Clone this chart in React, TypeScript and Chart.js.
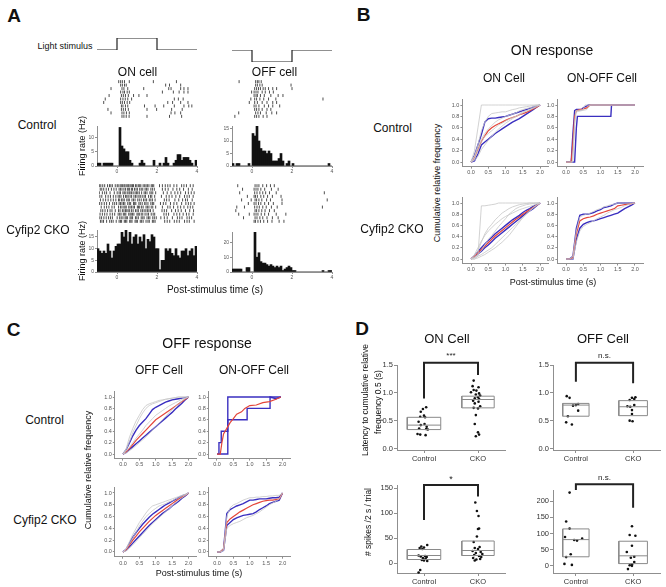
import React, { useEffect, useRef } from "react";
import { Chart, registerables } from "chart.js";
Chart.register(...registerables);

const FONT = "'Liberation Sans', Arial, Helvetica, sans-serif";
Chart.defaults.font.family = FONT;

// ---------------- Panel A data ----------------
const binStarts = [-1.0,-0.9,-0.8,-0.7,-0.6,-0.5,-0.4,-0.3,-0.2,-0.1,0.0,0.1,0.2,0.3,0.4,0.5,0.6,0.7,0.8,0.9,1.0,1.1,1.2,1.3,1.4,1.5,1.6,1.7,1.8,1.9,2.0,2.1,2.2,2.3,2.4,2.5,2.6,2.7,2.8,2.9,3.0,3.1,3.2,3.3,3.4,3.5,3.6,3.7,3.8,3.9];
const histCtrlOn = [1,1,0,1,1,1,1,1,0,0, 0,13.5,7,6,5,5,2,1,0,0, 0,1,2,1,0,0,0,0,2,0, 0,1,0,1,3,1,0,0,1,2, 4,4,2,3,3,3,2,1,0,2];
const histCtrlOff = [1,0,1,1,0,0,0,0,1,0, 13,12,16,10,7,6,6,5,6,5, 2,2,2,3,5,2,0,1,2,0, 1,0,0,0,0,0,0,0,0,0, 0,0,0,0,0,0,0,0,1,0];
const histCkoOn = [10,9,8,9,8,12,9,6,9,11, 12,12,17,15,18,13,17,12,15,16, 12,15,13,16,10,14,13,16,15,10, 10,1,5,5,10,9,10,8,7,10, 7,6,9,9,10,7,9,10,7,11];
const histCkoOff = [2,2,2,2,2,0,0,3,3,0, 0,27,10,13,7,6,6,5,4,5, 4,3,4,3,4,1,2,3,4,3, 1,1,0,0,0,0,0,0,0,0, 0,0,0,0,0,1,0,0,1,1];

const stimTimes = [-1, 0, 2, 4];
const stimOnLevels = [0, 1, 0, 0];
const stimOffLevels = [1, 0, 1, 1];

const rasterCtrlOn = [
  [0.03,0.13,0.22,0.33,0.58,1.83,3.03],
  [0.13,0.22,0.33,0.42,2.47,2.67,3.25],
  [-0.37,0.2,0.3,0.5,1.33,2.63,2.75,3.25,3.42,3.63],
  [0.13,0.25,0.33,0.47,0.58,2.3,2.87,3.17,3.42,3.63],
  [-0.47,0.17,0.27,0.38,0.53,0.8,1.08,1.5],
  [-0.67,0.13,0.25,0.37,0.5,0.7,2.92,3.13,3.38],
  [-0.75,0.13,0.22,0.33,0.47,0.6,2.58,2.83,3.25,3.63],
  [0.17,0.25,0.38,0.5,1.37,1.92,2.37,2.92,3.42,3.67,3.83],
  [-0.53,0.17,0.27,0.38,0.53,1.5,2.0,2.78,3.33],
  [-0.37,0.2,0.3,0.43,0.58,2.75,2.95,3.25],
  [0.2,0.3,0.42,0.57,1.5,2.67,3.3],
];
const rasterCtrlOff = [
  [-0.73,0.13,0.22,0.3,0.42],
  [0.13,0.22,0.35,0.47,1.97],
  [0.08,0.18,0.28,0.38,0.52,0.63,0.8,1.02,1.22,2.02],
  [-0.08,0.05,0.15,0.25,0.47,0.63,0.85,1.05],
  [0.05,0.15,0.22,0.38,0.58,0.92,1.3,1.55],
  [-0.12,0.08,0.18,0.35,0.55,0.8,1.18,3.63],
  [-0.2,0.08,0.22,0.47,0.72,1.02,1.22],
  [0.05,0.15,0.3,0.58,0.8,1.02,1.38],
  [0.08,0.18,0.3,0.47,0.72,0.92],
  [-0.75,0.13,0.25,0.38,0.68,0.97,1.22],
  [-0.95,0.08,0.18,0.3,0.52,0.72],
];
const rasterCkoOn = [
  [-0.98,-0.9,-0.8,-0.7,-0.55,-0.45,-0.38,-0.3,-0.15,-0.05,0.0,0.1,0.16,0.22,0.3,0.35,0.42,0.5,0.55,0.62,0.68,0.75,0.8,0.9,0.97,1.05,1.12,1.18,1.3,1.38,1.45,1.52,1.6,1.72,1.78,1.85,2.15,2.3,2.45,2.58,2.7,2.9,3.05,3.3,3.42,3.55,3.75,3.9],
  [-0.93,-0.85,-0.75,-0.62,-0.5,-0.35,-0.22,-0.1,0.05,0.12,0.2,0.3,0.38,0.48,0.55,0.6,0.7,0.75,0.85,0.93,1.0,1.12,1.2,1.28,1.4,1.47,1.55,1.7,1.78,1.88,2.3,2.45,2.6,2.85,3.05,3.2,3.4,3.65,3.85],
  [-0.98,-0.82,-0.7,-0.6,-0.42,-0.2,-0.05,0.05,0.12,0.25,0.32,0.4,0.5,0.57,0.62,0.7,0.78,0.88,0.95,1.02,1.1,1.22,1.35,1.42,1.5,1.65,1.72,1.8,1.95,2.35,2.55,2.75,2.95,3.1,3.25,3.5,3.65,3.8,3.95],
  [-0.95,-0.85,-0.65,-0.52,-0.4,-0.25,-0.12,0.0,0.08,0.15,0.28,0.38,0.45,0.52,0.62,0.7,0.82,0.9,0.98,1.08,1.15,1.25,1.35,1.42,1.58,1.68,1.75,1.9,2.25,2.5,2.65,2.8,3.0,3.2,3.45,3.58,3.7,3.9],
  [-0.92,-0.78,-0.65,-0.52,-0.38,-0.25,-0.12,0.02,0.08,0.18,0.25,0.32,0.45,0.52,0.58,0.72,0.8,0.88,1.02,1.1,1.2,1.32,1.4,1.48,1.62,1.7,1.78,1.92,2.4,2.52,2.65,2.95,3.15,3.35,3.5,3.6,3.85],
  [-0.96,-0.85,-0.72,-0.6,-0.45,-0.28,-0.18,-0.08,0.05,0.12,0.2,0.28,0.35,0.5,0.58,0.65,0.8,0.86,0.92,1.08,1.15,1.25,1.38,1.45,1.55,1.7,1.78,1.85,2.2,2.35,2.48,2.72,2.9,3.05,3.3,3.52,3.65,3.78,3.95],
  [-0.88,-0.72,-0.6,-0.48,-0.32,-0.2,0.02,0.12,0.2,0.3,0.36,0.42,0.55,0.62,0.7,0.78,0.85,1.0,1.06,1.12,1.22,1.3,1.45,1.52,1.6,1.72,1.8,1.95,2.3,2.58,2.7,2.88,3.1,3.25,3.42,3.62,3.75,3.88],
  [-0.9,-0.8,-0.68,-0.55,-0.42,-0.32,-0.15,0.02,0.1,0.22,0.3,0.38,0.45,0.52,0.6,0.7,0.78,0.9,0.98,1.05,1.18,1.26,1.35,1.44,1.52,1.6,1.68,1.82,2.28,2.4,2.52,2.78,2.98,3.12,3.28,3.5,3.72,3.92],
  [-0.94,-0.82,-0.7,-0.58,-0.42,-0.3,-0.18,0.0,0.08,0.15,0.27,0.34,0.4,0.55,0.62,0.68,0.75,0.82,0.98,1.04,1.1,1.2,1.28,1.4,1.5,1.58,1.72,1.82,1.9,2.38,2.5,2.62,2.9,3.05,3.2,3.38,3.55,3.68,3.9],
  [-0.95,-0.86,-0.74,-0.62,-0.5,-0.4,-0.3,-0.05,0.08,0.16,0.25,0.36,0.42,0.48,0.62,0.68,0.75,0.9,0.97,1.05,1.2,1.28,1.35,1.5,1.58,1.65,1.8,1.88,1.98,2.22,2.4,2.55,2.82,3.08,3.2,3.32,3.58,3.7,3.82],
  [-0.92,-0.84,-0.76,-0.6,-0.44,-0.35,-0.26,-0.1,0.05,0.12,0.18,0.32,0.38,0.45,0.6,0.66,0.72,0.88,0.94,1.0,1.15,1.22,1.3,1.45,1.55,1.62,1.78,1.85,1.92,2.42,2.55,2.68,2.92,3.05,3.18,3.45,3.58,3.7,3.95],
];
const rasterCkoOff = [
  [-0.8,0.1,0.2,0.3,0.5,0.7,0.9,1.1],
  [-0.55,0.05,0.15,0.25,0.4,0.6,0.95,1.3],
  [-0.7,0.08,0.2,0.35,0.5,0.65,0.85,1.2,3.7],
  [-0.3,0.05,0.12,0.22,0.4,0.55,0.75,1.0,1.45],
  [-0.6,-0.1,0.1,0.18,0.3,0.45,0.7,0.9,1.5,3.85],
  [-0.25,0.05,0.15,0.28,0.4,0.6,0.8,1.05,1.5],
  [-0.85,-0.45,0.08,0.2,0.32,0.5,0.68,0.95,1.25,3.6],
  [-0.9,0.1,0.18,0.3,0.45,0.62,0.85,1.1],
  [-0.75,-0.2,0.05,0.15,0.25,0.42,0.6,0.8,1.2,1.7],
  [-0.5,0.1,0.2,0.35,0.5,0.72,1.0,1.3],
  [0.05,0.12,0.25,0.38,0.55,0.75,0.98,1.35,1.6],
];

// ---------------- Panels B / C data ----------------
const T21 = [0,0.1,0.2,0.3,0.4,0.5,0.6,0.7,0.8,0.9,1.0,1.1,1.2,1.3,1.4,1.5,1.6,1.7,1.8,1.9,2.0];

// B: ON response, Control, ON cell
const bCtlOnRed = [0,0.08,0.22,0.36,0.46,0.55,0.6,0.64,0.67,0.7,0.73,0.76,0.78,0.8,0.83,0.85,0.87,0.9,0.93,0.96,1.0];
const bCtlOnHi = [0,0.12,0.3,0.48,0.7,0.76,0.77,0.77,0.78,0.79,0.8,0.82,0.84,0.86,0.88,0.9,0.92,0.94,0.96,0.98,1.0];
const bCtlOnLo = [0,0.02,0.14,0.3,0.35,0.4,0.45,0.5,0.54,0.58,0.62,0.66,0.7,0.73,0.76,0.8,0.84,0.88,0.92,0.96,1.0];
const bCtlOnGrey = [
  [0,0.2,0.6,1,1,1,1,1,1,1,1,1,1,1,1,1,1,1,1,1,1],
  [0,0.1,0.3,0.55,0.7,0.8,0.85,0.86,0.87,0.88,0.88,0.9,0.92,0.93,0.95,0.96,0.97,0.98,0.99,1,1],
  [0,0.05,0.2,0.35,0.45,0.5,0.55,0.6,0.65,0.68,0.72,0.75,0.78,0.8,0.83,0.86,0.89,0.92,0.95,0.98,1.0],
  [0,0.03,0.1,0.22,0.3,0.38,0.45,0.52,0.58,0.63,0.68,0.72,0.76,0.8,0.84,0.88,0.9,0.92,0.94,0.97,1.0],
  [0,0.1,0.25,0.4,0.5,0.58,0.64,0.7,0.74,0.77,0.8,0.82,0.84,0.86,0.9,0.92,0.94,0.95,0.97,0.99,1.0],
];
// B: ON response, Control, ON-OFF cell
const bCtlOnOffRedT = [0,0.15,0.2,0.25,0.3,0.4,0.5,0.6,0.7,2.0];
const bCtlOnOffRedY = [0,0,0.35,0.8,0.9,0.92,0.93,0.95,1.0,1.0];
const bCtlOnOffHiT = [0,0.15,0.2,0.25,0.3,0.45,0.5,0.65,2.0];
const bCtlOnOffHiY = [0,0,0.5,0.9,0.92,0.92,0.95,1.0,1.0];
const bCtlOnOffLoT = [0,0.25,0.3,0.33,1.3,1.32,2.0];
const bCtlOnOffLoY = [0,0,0.6,0.8,0.8,1.0,1.0];
const bCtlOnOffG1T = [0,0.2,0.25,0.3,0.6,0.7,2.0];
const bCtlOnOffG1Y = [0,0,0.7,0.88,0.92,1.0,1.0];
const bCtlOnOffG2T = [0,0.18,0.28,0.5,0.55,2.0];
const bCtlOnOffG2Y = [0,0,0.9,0.92,1.0,1.0];
// B: ON response, CKO, ON cell
const bCkoOnRed = [0,0.05,0.11,0.17,0.23,0.29,0.35,0.41,0.46,0.51,0.56,0.61,0.66,0.71,0.75,0.8,0.84,0.88,0.92,0.96,1.0];
const bCkoOnHi = [0,0.06,0.13,0.2,0.27,0.33,0.39,0.45,0.5,0.55,0.6,0.65,0.7,0.74,0.78,0.83,0.87,0.9,0.94,0.97,1.0];
const bCkoOnLo = [0,0.04,0.09,0.14,0.2,0.25,0.31,0.37,0.42,0.47,0.52,0.57,0.62,0.67,0.72,0.77,0.82,0.86,0.9,0.95,1.0];
const bCkoOnGrey = [
  [0,0,0.05,0.95,0.95,0.96,0.97,0.98,1,1,1,1,1,1,1,1,1,1,1,1,1],
  [0,0.05,0.15,0.3,0.45,0.55,0.62,0.7,0.76,0.82,0.86,0.9,0.93,0.95,0.97,0.98,0.99,1,1,1,1],
  [0,0.03,0.08,0.15,0.25,0.35,0.42,0.5,0.58,0.65,0.72,0.8,0.85,0.9,0.93,0.95,0.97,0.98,0.99,1,1],
  [0,0.02,0.05,0.08,0.12,0.16,0.2,0.26,0.32,0.38,0.44,0.5,0.56,0.62,0.68,0.74,0.8,0.86,0.91,0.96,1.0],
  [0,0,0.02,0.05,0.08,0.12,0.16,0.2,0.25,0.3,0.36,0.42,0.5,0.58,0.66,0.74,0.8,0.86,0.92,0.96,1.0],
  [0,0.08,0.2,0.32,0.42,0.5,0.56,0.62,0.67,0.72,0.76,0.79,0.82,0.85,0.88,0.9,0.92,0.94,0.96,0.98,1.0],
];
// B: ON response, CKO, ON-OFF cell
const bCkoOnOffRed = [0,0,0.02,0.45,0.68,0.72,0.74,0.75,0.77,0.8,0.82,0.84,0.86,0.88,0.9,0.95,0.96,0.97,0.98,0.99,1.0];
const bCkoOnOffHi = [0,0,0.05,0.55,0.78,0.8,0.8,0.81,0.83,0.86,0.88,0.92,0.93,0.95,0.98,1,1,1,1,1,1];
const bCkoOnOffLo = [0,0,0,0.35,0.55,0.62,0.65,0.67,0.68,0.7,0.72,0.74,0.76,0.78,0.8,0.82,0.86,0.9,0.93,0.96,1.0];
const bCkoOnOffGrey = [
  [0,0,0.05,0.5,0.75,0.78,0.8,0.82,0.85,0.88,0.9,0.93,0.95,0.97,0.98,1,1,1,1,1,1],
  [0,0,0,0.3,0.5,0.58,0.62,0.65,0.68,0.72,0.75,0.78,0.82,0.85,0.88,0.9,0.92,0.95,0.97,0.99,1.0],
];

// C: OFF response, Control, OFF cell
const cCtlOffRed = [0,0.04,0.1,0.17,0.24,0.3,0.36,0.42,0.48,0.54,0.6,0.64,0.68,0.72,0.76,0.8,0.84,0.88,0.92,0.96,1.0];
const cCtlOffHi = [0,0.08,0.2,0.32,0.42,0.5,0.56,0.62,0.7,0.78,0.82,0.85,0.88,0.91,0.93,0.95,0.96,0.97,0.98,0.99,1.0];
const cCtlOffLo = [0,0.03,0.08,0.13,0.18,0.23,0.28,0.33,0.38,0.43,0.48,0.53,0.58,0.63,0.68,0.73,0.79,0.84,0.89,0.95,1.0];
const cCtlOffGrey = [
  [0,0.1,0.3,0.45,0.58,0.68,0.78,0.85,0.88,0.9,0.92,0.94,0.95,0.96,0.97,0.98,0.99,1,1,1,1],
  [0,0.08,0.22,0.38,0.5,0.62,0.72,0.8,0.85,0.88,0.9,0.92,0.94,0.96,0.97,0.98,0.99,1,1,1,1],
  [0,0.05,0.12,0.2,0.28,0.35,0.42,0.5,0.56,0.62,0.68,0.72,0.76,0.8,0.84,0.87,0.9,0.93,0.96,0.98,1.0],
  [0,0.02,0.06,0.1,0.15,0.2,0.25,0.3,0.36,0.42,0.48,0.54,0.6,0.66,0.72,0.78,0.83,0.88,0.93,0.97,1.0],
];
// C: OFF response, Control, ON-OFF cell
const cCtlOnOffRedT = [0,0.1,0.15,0.2,0.3,0.4,0.5,0.6,0.75,0.85,1.0,1.2,1.4,1.6,1.8,1.95];
const cCtlOnOffRedY = [0,0,0.2,0.35,0.45,0.55,0.62,0.7,0.74,0.8,0.85,0.86,0.9,0.92,0.96,1.0];
const cCtlOnOffHiT = [0,0.33,0.33,1.95];
const cCtlOnOffHiY = [0,0,1,1];
const cCtlOnOffLoT = [0.06,0.06,0.13,0.13,0.33,0.33,0.92,0.92,1.62,1.62,1.8,1.95];
const cCtlOnOffLoY = [0,0.2,0.2,0.4,0.4,0.6,0.6,0.8,0.8,1.0,0.97,1.0];
// C: OFF response, CKO, OFF cell
const cCkoOffRed = [0,0.04,0.12,0.2,0.27,0.34,0.4,0.46,0.52,0.57,0.62,0.66,0.7,0.74,0.78,0.82,0.86,0.9,0.93,0.96,1.0];
const cCkoOffHi = [0,0.05,0.15,0.25,0.33,0.4,0.47,0.53,0.59,0.64,0.68,0.72,0.76,0.8,0.83,0.86,0.89,0.92,0.95,0.97,1.0];
const cCkoOffLo = [0,0.03,0.09,0.15,0.21,0.27,0.33,0.39,0.45,0.5,0.55,0.6,0.65,0.69,0.73,0.78,0.82,0.86,0.91,0.95,1.0];
const cCkoOffGrey = [
  [0,0.06,0.18,0.3,0.4,0.5,0.58,0.66,0.73,0.78,0.8,0.82,0.84,0.86,0.88,0.9,0.92,0.94,0.96,0.98,1.0],
  [0,0.05,0.14,0.24,0.34,0.44,0.52,0.6,0.65,0.7,0.74,0.78,0.8,0.82,0.85,0.87,0.9,0.92,0.95,0.97,1.0],
  [0,0.02,0.07,0.12,0.18,0.24,0.3,0.36,0.42,0.48,0.53,0.58,0.63,0.68,0.73,0.78,0.83,0.88,0.92,0.96,1.0],
];
// C: OFF response, CKO, ON-OFF cell
const cCkoOnOffRed = [0,0,0.05,0.5,0.56,0.6,0.64,0.68,0.71,0.74,0.77,0.8,0.82,0.84,0.86,0.87,0.88,0.88,0.89,0.9,1.0];
const cCkoOnOffHi = [0,0,0.05,0.65,0.72,0.75,0.78,0.8,0.82,0.85,0.88,0.88,0.89,0.9,0.9,0.9,0.91,0.92,0.92,0.93,1.0];
const cCkoOnOffLo = [0,0,0.03,0.45,0.5,0.55,0.58,0.6,0.62,0.63,0.64,0.65,0.68,0.72,0.75,0.78,0.82,0.84,0.86,0.88,1.0];
const cCkoOnOffGrey = [
  [0,0,0.05,0.6,0.75,0.8,0.82,0.85,0.88,0.9,0.92,0.92,0.93,0.93,0.94,0.94,0.95,0.95,0.96,0.96,1.0],
  [0,0,0.02,0.4,0.45,0.48,0.5,0.52,0.55,0.58,0.6,0.62,0.65,0.68,0.72,0.76,0.8,0.83,0.86,0.9,1.0],
];

const cdfTicksX = [0, 0.5, 1, 1.5, 2];
const cdfTicksY = [0, 0.2, 0.4, 0.6, 0.8, 1.0];

// ---------------- Panel D data ----------------
const groups = ["Control", "CKO"];
const onLatCtrl = [0.74,0.71,0.66,0.59,0.57,0.56,0.48,0.44,0.42,0.39,0.36,0.35,0.34,0.26,0.25,0.24];
const onLatCtrlJit = [0.04,-0.02,-0.06,0,-0.07,0.02,-0.1,0.01,-0.06,0.05,-0.09,0.04,0.07,-0.12,-0.07,0.03];
const onLatCko = [1.22,1.12,1.10,1.05,1.04,1.01,0.99,0.97,0.95,0.92,0.9,0.89,0.86,0.84,0.81,0.76,0.73,0.72,0.6,0.44,0.29,0.25,0.22];
const onLatCkoJit = [-0.08,-0.1,0.01,-0.08,-0.03,-0.13,0.02,-0.04,0.04,0,-0.06,0.02,-0.09,0.01,-0.06,0.04,-0.08,0,-0.04,-0.06,0,0.02,-0.04];
const onLatBoxCtrl = [0.34, 0.42, 0.56];
const onLatBoxCko = [0.73, 0.88, 0.94];
const onLatBracket = [0.9, 1.54, 1.32];

const offLatCtrl = [0.94,0.91,0.8,0.78,0.77,0.68,0.58,0.47,0.43];
const offLatCtrlJit = [-0.16,-0.11,0.04,0,-0.05,0.04,-0.14,-0.17,-0.07];
const offLatCko = [0.92,0.91,0.89,0.87,0.78,0.76,0.75,0.69,0.62,0.5,0.49];
const offLatCkoJit = [0.04,-0.02,0.02,-0.06,0.02,-0.1,-0.05,-0.02,-0.02,-0.06,-0.01];
const offLatBoxCtrl = [0.58, 0.78, 0.81];
const offLatBoxCko = [0.59, 0.75, 0.86];
const offLatBracket = [1.2, 1.54, 1.17];

const onSpkCtrl = [36,33,31,30,28,15,14,13,12,10,9,6,5,4,-14,-19];
const onSpkCtrlJit = [0.06,-0.05,0.0,-0.08,-0.03,-0.1,0.02,-0.06,0.05,-0.02,0.03,-0.04,0.0,0.06,-0.07,-0.1];
const onSpkCko = [121,104,94,69,68,53,42,32,30,28,24,22,20,18,16,14,12,10,8,7,5];
const onSpkCkoJit = [-0.05,-0.02,0.01,0.02,0.0,-0.02,-0.08,0.03,-0.06,0.0,-0.1,0.05,-0.04,0.08,-0.07,0.02,0.06,-0.09,0.04,-0.03,-0.06];
const onSpkBoxCtrl = [7, 15, 27];
const onSpkBoxCko = [15, 25, 44];
const onSpkBracket = [86, 156, 133];

const offSpkCtrl = [226,137,115,89,84,80,78,36,27,6,3];
const offSpkCtrlJit = [-0.11,-0.17,-0.11,-0.19,0.11,-0.03,0.02,-0.09,-0.17,-0.2,-0.07];
const offSpkCko = [122,95,93,62,43,28,25,12,5,2,0,-10];
const offSpkCkoJit = [-0.02,-0.06,0.04,-0.02,-0.11,0.02,-0.04,0.02,-0.02,-0.06,-0.02,-0.09];
const offSpkBoxCtrl = [28, 81, 114];
const offSpkBoxCko = [7, 31, 76];
const offSpkBracket = [234, 252, 179];

// ---------------- helpers ----------------
const RED = "#e4463a";
const BLUE = "#3a2fc0";
const GREY = "#c6c6c6";
const AXIS = "#8f8f8f";

type Axis = {
  min: number; max: number; ticks?: number[]; fmt?: (v: number) => string;
  band: number; font?: number; reverse?: boolean; tickLen?: number; labelColor?: string;
};

function scale(a: Axis, horizontal: boolean) {
  const shown = a.band > 0;
  return {
    type: "linear",
    min: a.min, max: a.max, reverse: !!a.reverse, display: shown, offset: false, grace: 0,
    border: { display: shown, color: AXIS, width: 1 },
    grid: { display: shown, drawOnChartArea: false, drawTicks: true, tickLength: a.tickLen ?? 2, color: AXIS, lineWidth: 1, offset: false },
    ticks: {
      display: shown, autoSkip: false, maxRotation: 0, minRotation: 0, padding: 1,
      color: a.labelColor ?? "#555", font: { size: a.font ?? 5.5, family: FONT },
      callback: (v: number) => (a.fmt ? a.fmt(v) : String(v)),
    },
    afterBuildTicks: (s: any) => { if (a.ticks) s.ticks = a.ticks.map((v) => ({ value: v })); },
    afterFit: (s: any) => {
      if (horizontal) s.height = a.band; else s.width = a.band;
      s.paddingLeft = 0; s.paddingRight = 0; s.paddingTop = 0; s.paddingBottom = 0;
    },
  };
}

const sigPlugin = {
  id: "sig",
  afterDatasetsDraw(chart: any, _a: any, opts: any) {
    if (!opts || !opts.text) return;
    const ctx = chart.ctx;
    const x = chart.scales.x.getPixelForValue(opts.x);
    const y = chart.scales.y.getPixelForValue(opts.y);
    ctx.save();
    ctx.font = `${opts.size || 8}px ${FONT}`;
    ctx.fillStyle = "#222";
    ctx.textAlign = "center";
    ctx.textBaseline = "middle";
    ctx.fillText(opts.text, x, y);
    ctx.restore();
  },
};

type Spec = { left: number; top: number; width: number; height: number; cfg: any };

function build(area: number[], x: Axis, y: Axis, pad: number[], type: string, datasets: any[], sig?: any): Spec {
  const [x0, y0, x1, y1] = area;
  const [pl, pt, pr, pb] = pad;
  const left = Math.floor(x0 - y.band - pl);
  const top = Math.floor(y0 - pt);
  const right = Math.ceil(x1 + pr);
  const bottom = Math.ceil(y1 + x.band + pb);
  return {
    left, top, width: right - left, height: bottom - top,
    cfg: {
      type,
      data: { datasets },
      options: {
        responsive: false, maintainAspectRatio: false, animation: false, devicePixelRatio: 1, events: [],
        layout: { padding: { left: x0 - y.band - left, top: y0 - top, right: right - x1, bottom: bottom - y1 - x.band } },
        plugins: { legend: { display: false }, tooltip: { enabled: false }, title: { display: false }, sig: sig || {} },
        scales: { x: scale(x, true), y: scale(y, false) },
      },
      plugins: [sigPlugin],
    },
  };
}

function ChartCanvas({ spec }: { spec: Spec }) {
  const ref = useRef<HTMLCanvasElement>(null);
  useEffect(() => {
    const c = new Chart(ref.current as HTMLCanvasElement, spec.cfg);
    return () => c.destroy();
  }, []);
  return (
    <canvas ref={ref} width={spec.width} height={spec.height}
      style={{ position: "absolute", left: spec.left, top: spec.top, width: spec.width, height: spec.height }} />
  );
}

const lineDs = (t: number[], y: number[], color: string, w: number) => ({
  data: t.map((x, i) => ({ x, y: y[i] })), showLine: true, pointRadius: 0, borderColor: color, borderWidth: w, tension: 0, fill: false,
});

function cdfSets(t: number[], greys: number[][], red: number[], hi: number[], lo: number[]) {
  return [
    ...greys.map((g) => lineDs(t, g, GREY, 0.8)),
    lineDs(t, red, RED, 1.2),
    lineDs(t, hi, BLUE, 1.4),
    lineDs(t, lo, BLUE, 1.4),
  ];
}

const rasterDs = (rows: number[][]) => ({
  data: rows.flatMap((r, i) => r.map((t) => ({ x: t, y: i }))),
  showLine: false, pointStyle: "line", pointRotation: 90, pointRadius: 1.5,
  pointBorderColor: "#3a3a3a", pointBorderWidth: 0.9,
});

const histDs = (vals: number[]) => ({
  data: binStarts.map((s, i) => ({ x: s + 0.05, y: vals[i] })),
  backgroundColor: "#111", borderWidth: 0, barPercentage: 1, categoryPercentage: 1,
});

const stimDs = (levels: number[]) => ({
  data: stimTimes.map((t, i) => ({ x: t, y: levels[i] })),
  showLine: true, stepped: true, pointRadius: 0, borderColor: "#222", borderWidth: 1.2, fill: false,
});

function boxSets(q: number[], cx: number, hw: number) {
  const rect = [[cx - hw, q[0]], [cx + hw, q[0]], [cx + hw, q[2]], [cx - hw, q[2]], [cx - hw, q[0]]];
  return [
    { data: rect.map(([x, y]) => ({ x, y })), showLine: true, pointRadius: 0, borderColor: "#8a8a8a", borderWidth: 1 },
    { data: [{ x: cx - hw, y: q[1] }, { x: cx + hw, y: q[1] }], showLine: true, pointRadius: 0, borderColor: "#8a8a8a", borderWidth: 1 },
  ];
}
const ptsDs = (cx: number, vals: number[], jit: number[]) => ({
  data: vals.map((v, i) => ({ x: cx + jit[i], y: v })), showLine: false,
  pointRadius: 1.3, pointBackgroundColor: "#111", pointBorderWidth: 0, clip: false,
});
const bracketDs = (b: number[]) => ({
  data: [{ x: 0, y: b[0] }, { x: 0, y: b[1] }, { x: 1, y: b[1] }, { x: 1, y: b[2] }],
  showLine: true, pointRadius: 0, borderColor: "#222", borderWidth: 2, clip: false,
});

// ---------------- specs ----------------
const hidden = (min: number, max: number, reverse?: boolean): Axis => ({ min, max, band: 0, reverse });
const timeAxisA: Axis = { min: -1, max: 4, ticks: [0, 2, 4], band: 9, font: 5 };
const cdfX: Axis = { min: -0.25, max: 2.25, ticks: cdfTicksX, fmt: (v) => v.toFixed(1), band: 10 };
const cdfY: Axis = { min: -0.08, max: 1.1, ticks: cdfTicksY, fmt: (v) => v.toFixed(1), band: 12 };
const grpFmt = (v: number) => groups[Math.round(v)] ?? "";
const dXL: Axis = { min: -0.5, max: 1.5, ticks: [0, 1], fmt: grpFmt, band: 12, font: 7.5, tickLen: 3, labelColor: "#333" };
const dXR: Axis = { min: -0.4, max: 1.47, ticks: [0, 1], fmt: grpFmt, band: 12, font: 7.5, tickLen: 3, labelColor: "#333" };
const dYLat: Axis = { min: -0.027, max: 1.5, ticks: [0, 0.5, 1, 1.5], fmt: (v) => v.toFixed(1), band: 16, font: 7.5, tickLen: 3, labelColor: "#333" };
const dYSpkOn: Axis = { min: -20, max: 155, ticks: [0, 50, 100, 150], band: 16, font: 7.5, tickLen: 3, labelColor: "#333" };
const dYSpkOff: Axis = { min: -22, max: 234, ticks: [0, 50, 100, 150, 200], band: 16, font: 7.5, tickLen: 3, labelColor: "#333" };

function makeSpecs(): Spec[] {
  const P3 = [3, 3, 3, 3];
  const PH = [0, 3, 4, 0];
  const PC = [0, 3, 4, 0];
  const PD = [0, 22, 4, 0];
  return [
    // Panel A stimulus
    build([97, 38, 197, 50], hidden(-1, 4), hidden(0, 1), P3, "scatter", [stimDs(stimOnLevels)]),
    build([232, 50, 332, 62], hidden(-1, 4), hidden(0, 1), P3, "scatter", [stimDs(stimOffLevels)]),
    // rasters
    build([97, 78, 197, 120], hidden(-1, 4), hidden(-0.5, 10.5, true), P3, "scatter", [rasterDs(rasterCtrlOn)]),
    build([232, 78, 332, 120], hidden(-1, 4), hidden(-0.5, 10.5, true), P3, "scatter", [rasterDs(rasterCtrlOff)]),
    build([97, 182, 197, 225], hidden(-1, 4), hidden(-0.5, 10.5, true), P3, "scatter", [rasterDs(rasterCkoOn)]),
    build([232, 182, 332, 225], hidden(-1, 4), hidden(-0.5, 10.5, true), P3, "scatter", [rasterDs(rasterCkoOff)]),
    // histograms
    build([97, 126, 197, 166], timeAxisA, { min: 0, max: 14, ticks: [0, 5, 10], band: 8, font: 5 }, PH, "bar", [histDs(histCtrlOn)]),
    build([232, 126, 332, 166], timeAxisA, { min: 0, max: 16, ticks: [0, 5, 10, 15], band: 8, font: 5 }, PH, "bar", [histDs(histCtrlOff)]),
    build([97, 230, 197, 272], timeAxisA, { min: 0, max: 18, ticks: [0, 5, 10, 15], band: 8, font: 5 }, PH, "bar", [histDs(histCkoOn)]),
    build([232, 232, 332, 272], timeAxisA, { min: 0, max: 27, ticks: [0, 10, 20], band: 8, font: 5 }, PH, "bar", [histDs(histCkoOff)]),
    // Panel B
    build([462.4, 99.3, 548.7, 166.6], cdfX, cdfY, PC, "scatter", cdfSets(T21, bCtlOnGrey, bCtlOnRed, bCtlOnHi, bCtlOnLo)),
    build([557.4, 99.3, 643.6, 166.6], cdfX, cdfY, PC, "scatter", [
      lineDs(bCtlOnOffG1T, bCtlOnOffG1Y, GREY, 0.8), lineDs(bCtlOnOffG2T, bCtlOnOffG2Y, GREY, 0.8),
      lineDs(bCtlOnOffRedT, bCtlOnOffRedY, RED, 1.2), lineDs(bCtlOnOffHiT, bCtlOnOffHiY, BLUE, 1.4), lineDs(bCtlOnOffLoT, bCtlOnOffLoY, BLUE, 1.4),
    ]),
    build([462.4, 197.4, 548.7, 263.5], cdfX, cdfY, PC, "scatter", cdfSets(T21, bCkoOnGrey, bCkoOnRed, bCkoOnHi, bCkoOnLo)),
    build([557.4, 197.4, 643.6, 263.5], cdfX, cdfY, PC, "scatter", cdfSets(T21, bCkoOnOffGrey, bCkoOnOffRed, bCkoOnOffHi, bCkoOnOffLo)),
    // Panel C
    build([114.8, 391.3, 196.7, 458.6], cdfX, cdfY, PC, "scatter", cdfSets(T21, cCtlOffGrey, cCtlOffRed, cCtlOffHi, cCtlOffLo)),
    build([208.8, 391.3, 290.7, 458.6], cdfX, cdfY, PC, "scatter", [
      lineDs(cCtlOnOffRedT, cCtlOnOffRedY, RED, 1.2), lineDs(cCtlOnOffHiT, cCtlOnOffHiY, BLUE, 1.4), lineDs(cCtlOnOffLoT, cCtlOnOffLoY, BLUE, 1.4),
    ]),
    build([114.8, 487.1, 196.7, 556.7], cdfX, cdfY, PC, "scatter", cdfSets(T21, cCkoOffGrey, cCkoOffRed, cCkoOffHi, cCkoOffLo)),
    build([208.8, 487.1, 290.7, 556.7], cdfX, cdfY, PC, "scatter", cdfSets(T21, cCkoOnOffGrey, cCkoOnOffRed, cCkoOnOffHi, cCkoOnOffLo)),
    // Panel D
    build([397, 365, 505, 450], dXL, dYLat, PD, "scatter", [
      ...boxSets(onLatBoxCtrl, 0, 0.31), ...boxSets(onLatBoxCko, 1, 0.3), bracketDs(onLatBracket),
      ptsDs(0, onLatCtrl, onLatCtrlJit), ptsDs(1, onLatCko, onLatCkoJit),
    ], { text: "***", x: 0.5, y: 1.66, size: 8 }),
    build([553, 365, 660, 450], dXR, dYLat, PD, "scatter", [
      ...boxSets(offLatBoxCtrl, 0, 0.23), ...boxSets(offLatBoxCko, 1, 0.25), bracketDs(offLatBracket),
      ptsDs(0, offLatCtrl, offLatCtrlJit), ptsDs(1, offLatCko, offLatCkoJit),
    ], { text: "n.s.", x: 0.5, y: 1.66, size: 8 }),
    build([397, 485.5, 505, 573], dXL, dYSpkOn, PD, "scatter", [
      ...boxSets(onSpkBoxCtrl, 0, 0.31), ...boxSets(onSpkBoxCko, 1, 0.3), bracketDs(onSpkBracket),
      ptsDs(0, onSpkCtrl, onSpkCtrlJit), ptsDs(1, onSpkCko, onSpkCkoJit),
    ], { text: "*", x: 0.5, y: 167, size: 9 }),
    build([553, 490, 660, 573], dXR, dYSpkOff, PD, "scatter", [
      ...boxSets(offSpkBoxCtrl, 0, 0.23), ...boxSets(offSpkBoxCko, 1, 0.25), bracketDs(offSpkBracket),
      ptsDs(0, offSpkCtrl, offSpkCtrlJit), ptsDs(1, offSpkCko, offSpkCkoJit),
    ], { text: "n.s.", x: 0.5, y: 272, size: 8 }),
  ];
}

function Txt({ x, y, s, b, children }: { x: number; y: number; s: number; b?: boolean; children: any }) {
  return (
    <div style={{
      position: "absolute", left: x, top: y, transform: "translate(-50%,-50%)",
      fontSize: s, fontWeight: b ? "bold" : "normal", fontFamily: FONT, whiteSpace: "nowrap", lineHeight: 1, color: "#111",
    }}>{children}</div>
  );
}

// rotated (vertical) label rendered as SVG text
function VTxt({ x, y, s, children }: { x: number; y: number; s: number; children: any }) {
  const w = 20, h = 180;
  return (
    <svg width={w} height={h} style={{ position: "absolute", left: x - w / 2, top: y - h / 2, overflow: "visible" }}>
      <text x={w / 2} y={h / 2} transform={`rotate(-90 ${w / 2} ${h / 2})`} textAnchor="middle" dominantBaseline="central"
        fontSize={s} fontFamily={FONT} fill="#111">{children}</text>
    </svg>
  );
}

export default function App() {
  const specs = makeSpecs();
  return (
    <div style={{ position: "absolute", left: 0, top: 0, width: 666, height: 587, background: "#fff", overflow: "hidden" }}>
      {specs.map((s, i) => <ChartCanvas key={i} spec={s} />)}
      {/* Panel A */}
      <Txt x={14} y={15} s={19} b>A</Txt>
      <Txt x={65} y={46} s={9}>Light stimulus</Txt>
      <Txt x={137.5} y={72} s={12}>ON cell</Txt>
      <Txt x={274.5} y={72} s={12}>OFF cell</Txt>
      <Txt x={37} y={125} s={12}>Control</Txt>
      <Txt x={38} y={230} s={12}>Cyfip2 CKO</Txt>
      <VTxt x={82} y={146} s={9}>Firing rate (Hz)</VTxt>
      <VTxt x={82} y={251} s={9}>Firing rate (Hz)</VTxt>
      <Txt x={215} y={290} s={10}>Post-stimulus time (s)</Txt>
      {/* Panel B */}
      <Txt x={363.5} y={14} s={19} b>B</Txt>
      <Txt x={552} y={50} s={14}>ON response</Txt>
      <Txt x={504} y={78} s={12}>ON Cell</Txt>
      <Txt x={602} y={78} s={12}>ON-OFF Cell</Txt>
      <Txt x={392.5} y={128} s={12}>Control</Txt>
      <Txt x={392} y={229} s={12}>Cyfip2 CKO</Txt>
      <VTxt x={437} y={183} s={9}>Cumulative relative frequency</VTxt>
      <Txt x={553} y={282} s={9}>Post-stimulus time (s)</Txt>
      {/* Panel C */}
      <Txt x={13.5} y={328.5} s={19} b>C</Txt>
      <Txt x={207} y={343} s={14}>OFF response</Txt>
      <Txt x={159} y={370} s={12}>OFF Cell</Txt>
      <Txt x={254} y={370} s={12}>ON-OFF Cell</Txt>
      <Txt x={44.5} y={420} s={12}>Control</Txt>
      <Txt x={45} y={520} s={12}>Cyfip2 CKO</Txt>
      <VTxt x={88} y={470} s={9}>Cumulative relative frequency</VTxt>
      <Txt x={199} y={573} s={9}>Post-stimulus time (s)</Txt>
      {/* Panel D */}
      <Txt x={362} y={328} s={19} b>D</Txt>
      <Txt x={447} y={338} s={13}>ON Cell</Txt>
      <Txt x={603} y={338} s={13}>OFF Cell</Txt>
      <VTxt x={365} y={400} s={8.5}>Latency to cumulative relative</VTxt>
      <VTxt x={378} y={402} s={8.5}>frequency 0.5 (s)</VTxt>
      <VTxt x={368} y={522} s={8.5}># spikes /2 s / trial</VTxt>
    </div>
  );
}
